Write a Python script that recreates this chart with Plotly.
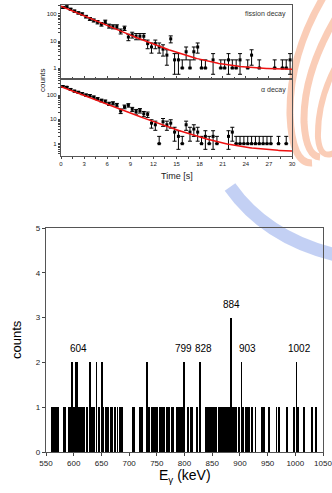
import math
import plotly.graph_objects as go

# ---------------- decay data (0.5 s bins) ----------------
fission_t = [0.25, 0.75, 1.25, 1.75, 2.25, 2.75, 3.25, 3.75, 4.25, 4.75,
             5.25, 5.75, 6.25, 6.75, 7.25, 7.75, 8.25, 8.75, 9.25, 9.75,
             10.25, 10.75, 11.25, 11.75, 12.25, 12.75, 13.25, 13.75, 14.25, 14.75,
             15.25, 15.75, 16.25, 16.75, 17.25, 17.75, 18.25, 18.75, 19.75, 20.75,
             21.25, 21.75, 22.25, 22.75, 23.25, 24.25, 24.75, 25.75, 27.75, 28.75,
             29.25, 29.75]
fission_n = [175, 185, 150, 128, 110, 100, 80, 66, 58, 50,
             42, 52, 36, 34, 34, 23, 30, 14, 17, 15,
             15, 15, 8, 6, 8, 6, 5, 3, 12, 2,
             2, 1, 4, 1, 4, 6, 1, 1, 2, 1,
             1, 2, 1, 1, 2, 1, 3, 1, 1, 1,
             1, 2]

alpha_t = [0.25, 0.75, 1.25, 1.75, 2.25, 2.75, 3.25, 3.75, 4.25, 4.75,
           5.25, 5.75, 6.25, 6.75, 7.25, 7.75, 8.25, 8.75, 9.25, 9.75,
           10.25, 10.75, 11.25, 11.75, 12.25, 12.75, 13.25, 13.75, 14.25, 14.75,
           15.25, 15.75, 16.25, 16.75, 17.25, 17.75, 18.25, 18.75, 19.25, 19.75,
           20.25, 21.75, 22.25, 22.75, 23.25, 23.75, 24.25, 24.75, 25.25, 25.75,
           26.25, 26.75, 27.25, 28.25, 29.25]
alpha_n = [225, 210, 170, 145, 130, 115, 100, 95, 82, 70,
           60, 55, 44, 46, 39, 22, 33, 38, 26, 21,
           23, 17, 16, 7, 6, 1, 8, 6, 7, 3,
           2, 1, 6, 3, 4, 3, 1, 2, 1, 2,
           1, 2, 3, 1, 1, 1, 1, 1, 1, 1,
           1, 1, 1, 1, 1]

# exponential + constant background fits
fission_fit = dict(amp=195.0, lam=0.28, bkg=0.85)
alpha_fit = dict(amp=220.0, lam=0.28, bkg=0.45)

# ---------------- gamma spectrum ----------------
gamma_e1 = [560, 563, 566, 569, 572, 582, 585, 591, 593, 595, 600, 602,
            609, 612, 615, 618, 623, 625, 631, 634, 637, 645, 653, 658, 662,
            667, 669, 675, 679, 684, 687, 706, 709, 720, 722, 724, 736, 742,
            745, 748, 751, 756, 759, 763, 768, 772, 777, 779, 786, 790, 793,
            796, 806, 811, 814, 822, 838, 841, 844, 847, 850, 853, 857, 862,
            865, 868, 871, 875, 878, 881, 887, 890, 893, 899, 906, 910, 913,
            917, 922, 928, 940, 943, 953, 966, 970, 985, 998, 1005, 1016,
            1030, 1037]
gamma_e2 = [597, 604, 607, 629, 641, 651, 732, 799, 828, 903, 1002]
gamma_e3 = [884]
peak_labels = [604, 799, 828, 884, 903, 1002]
peak_counts = [2, 2, 2, 3, 2, 2]
peak_xshift = [3, 0, 3, 0, 6, 3]

W, H = 332, 493
FONT = "Arial, Liberation Sans, sans-serif"


def fx(x):
    return x / W


def fy(y):
    return 1 - y / H


def fit_curve(p, n=301):
    ts = [30 * i / (n - 1) for i in range(n)]
    return ts, [p["amp"] * math.exp(-p["lam"] * t) + p["bkg"] for t in ts]


def errs(counts):
    up = [math.sqrt(c) for c in counts]
    lo = [0.0 if c <= 1 else math.sqrt(c) for c in counts]
    return up, lo


fig = go.Figure()

for t, n, p, xa, ya in [(fission_t, fission_n, fission_fit, "x", "y"),
                        (alpha_t, alpha_n, alpha_fit, "x2", "y2")]:
    up, lo = errs(n)
    fig.add_trace(go.Scatter(
        x=t, y=n, mode="markers", xaxis=xa, yaxis=ya,
        marker=dict(symbol="square", size=3, color="black"),
        error_y=dict(type="data", array=up, arrayminus=lo, symmetric=False,
                     color="black", thickness=1, width=2),
        showlegend=False))
    ft, fv = fit_curve(p)
    fig.add_trace(go.Scatter(x=ft, y=fv, mode="lines", xaxis=xa, yaxis=ya,
                             line=dict(color="#ee1111", width=1.5),
                             showlegend=False))

energies = gamma_e1 + gamma_e2 + gamma_e3
counts = [1] * len(gamma_e1) + [2] * len(gamma_e2) + [3] * len(gamma_e3)
fig.add_trace(go.Bar(x=energies, y=counts, width=1.4, xaxis="x3", yaxis="y3",
                     marker=dict(color="black", line=dict(width=0)),
                     showlegend=False))

frame = dict(showline=True, mirror=True, linecolor="#555", linewidth=1.2,
             showgrid=False, zeroline=False, automargin=False,
             ticklabeloverflow="allow")
small = dict(family=FONT, size=6, color="#222")
mid = dict(family=FONT, size=8, color="#222")

time_dom = [fx(61), fx(292)]
fig.update_layout(
    width=W, height=H, margin=dict(l=0, r=0, t=0, b=0, autoexpand=False),
    paper_bgcolor="white", plot_bgcolor="rgba(0,0,0,0)",
    font=dict(family=FONT, color="black"),
    bargap=0,
    xaxis=dict(domain=time_dom, anchor="y", range=[0, 30], dtick=3,
               showticklabels=False, ticks="inside", ticklen=3,
               minor=dict(ticks="inside", ticklen=2, dtick=1.5), **frame),
    yaxis=dict(domain=[fy(79), fy(5)], anchor="x", type="log",
               range=[-0.407, 2.333], tickvals=[1, 10, 100],
               ticktext=["1", "10", "100"], tickfont=small,
               ticks="outside", ticklen=2,
               minor=dict(ticks="outside", ticklen=1.5, dtick="D1"), **frame),
    xaxis2=dict(domain=time_dom, anchor="y2", range=[0, 30], dtick=3,
                tickfont=small, ticks="outside", ticklen=2,
                minor=dict(ticks="outside", ticklen=1.5, dtick=1.5), **frame),
    yaxis2=dict(domain=[fy(156), fy(79)], anchor="x2", type="log",
                range=[-0.506, 2.66], tickvals=[1, 10, 100],
                ticktext=["1", "10", "100"], tickfont=small,
                ticks="outside", ticklen=2,
                minor=dict(ticks="outside", ticklen=1.5, dtick="D1"), **frame),
    xaxis3=dict(domain=[fx(46), fx(323)], anchor="y3", range=[550, 1050],
                dtick=50, tickfont=mid, ticks="outside", ticklen=3, **frame),
    yaxis3=dict(domain=[fy(452), fy(228)], anchor="x3", range=[0, 5],
                dtick=1, tickfont=mid, ticks="outside", ticklen=3, **frame),
)

ann = [
    dict(text="fission decay", x=fx(288), y=fy(14), xanchor="right",
         yanchor="middle", font=dict(family=FONT, size=7, color="#333")),
    dict(text="α decay", x=fx(288), y=fy(90), xanchor="right",
         yanchor="middle", font=dict(family=FONT, size=7, color="#333")),
    dict(text="counts", x=fx(42), y=fy(80), textangle=-90, xanchor="center",
         yanchor="middle", font=dict(family=FONT, size=8, color="#222")),
    dict(text="Time [s]", x=fx(177), y=fy(176), xanchor="center",
         yanchor="middle", font=dict(family=FONT, size=9, color="#222")),
    dict(text="counts", x=fx(16), y=fy(340), textangle=-90, xanchor="center",
         yanchor="middle", font=dict(family=FONT, size=13, color="black")),
    dict(text="E<sub>γ</sub> (keV)", x=fx(185), y=fy(476), xanchor="center",
         yanchor="middle", font=dict(family=FONT, size=14, color="black")),
]
for a in ann:
    a.update(xref="paper", yref="paper", showarrow=False)

for e, c, s in zip(peak_labels, peak_counts, peak_xshift):
    ann.append(dict(text=str(e), x=e, y=c, xref="x3", yref="y3",
                    xshift=s, yshift=6, yanchor="bottom", showarrow=False,
                    font=dict(family=FONT, size=10, color="black")))
fig.update_layout(annotations=ann)


def path(points):
    # quadratic bezier path through pixel points, converted to paper units
    def p(pt):
        return f"{fx(pt[0]):.4f},{fy(pt[1]):.4f}"
    s = "M " + p(points[0])
    rest = points[1:]
    for i in range(0, len(rest) - 1, 2):
        s += " Q " + p(rest[i]) + " " + p(rest[i + 1])
    return s


orange = "rgba(249,196,170,0.85)"
blue = "rgba(184,200,242,0.85)"
deco = [
    (path([(324, -4), (289, 55), (290, 115), (292, 164), (312, 163)]), orange, 7),
    (path([(338, 14), (303, 72), (304, 122), (306, 156), (320, 157)]), orange, 7),
    (path([(338, 62), (317, 100), (318, 138), (320, 161), (336, 152)]), orange, 6),
    (path([(230, 187), (266, 238), (336, 255)]), blue, 13),
]
fig.update_layout(shapes=[
    dict(type="path", path=d, xref="paper", yref="paper", layer="below",
         line=dict(color=c, width=w), fillcolor="rgba(0,0,0,0)")
    for d, c, w in deco
])

fig.write_html("out.html")
